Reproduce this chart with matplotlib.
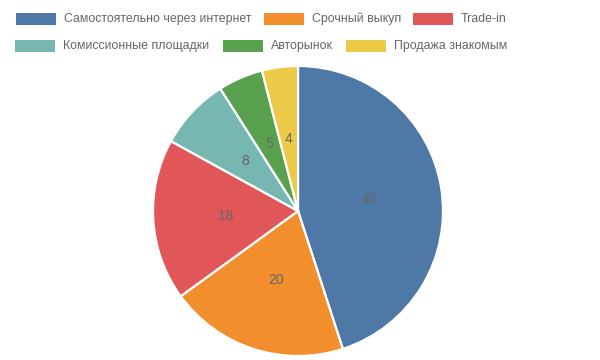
import matplotlib
matplotlib.use("Agg")
import matplotlib.pyplot as plt
from matplotlib.patches import Rectangle

plt.rcParams["font.family"] = ["Liberation Sans", "DejaVu Sans"]

labels = [
    "Самостоятельно через интернет",
    "Срочный выкуп",
    "Trade-in",
    "Комиссионные площадки",
    "Авторынок",
    "Продажа знакомым",
]
values = [45, 20, 18, 8, 5, 4]
colors = ["#4e79a7", "#f28e2b", "#e15759", "#76b7b2", "#59a14f", "#edc948"]

W, H = 600, 360
fig = plt.figure(figsize=(W / 100, H / 100), dpi=100)

# pie area in pixels: centre (298, 211), radius 145
cx, cy, r = 298, 211, 145
ax = fig.add_axes([(cx - r) / W, (H - cy - r) / H, 2 * r / W, 2 * r / H])
ax.pie(
    values,
    colors=colors,
    startangle=90,
    counterclock=False,
    radius=1,
    labels=[str(v) for v in values],
    labeldistance=0.5,
    textprops=dict(color="#666666", fontsize=10, ha="center", va="center"),
    wedgeprops=dict(edgecolor="white", linewidth=1.6),
)
ax.set_xlim(-1.0, 1.0)
ax.set_ylim(-1.0, 1.0)
ax.set_aspect("equal")
ax.axis("off")

# legend, Chart.js style: wide colour box then grey label
rows = [[0, 1, 2], [3, 4, 5]]
row_y = [19, 46]
box_x = [[15.5, 264, 413], [15, 223, 346]]
for row, y, xs in zip(rows, row_y, box_x):
    for i, x in zip(row, xs):
        fig.patches.append(
            Rectangle(
                (x / W, (H - y - 6) / H), 40 / W, 12 / H,
                transform=fig.transFigure, facecolor=colors[i],
                edgecolor="none",
            )
        )
        fig.text((x + 48) / W, (H - y) / H, labels[i], color="#666666",
                 fontsize=8.9, ha="left", va="center")

fig.savefig("out.png", dpi=100, facecolor="white")
